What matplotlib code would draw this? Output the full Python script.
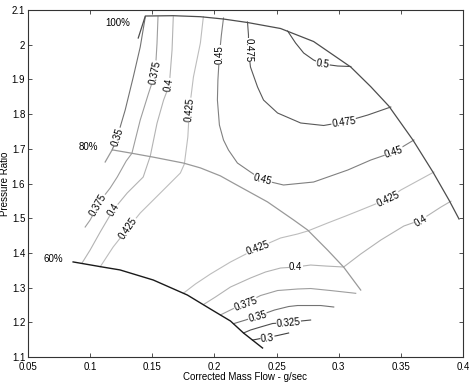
import matplotlib
matplotlib.use("Agg")
import matplotlib.pyplot as plt

plt.rcParams['font.family'] = ['Liberation Sans', 'DejaVu Sans']

# speed lines (corrected mass flow g/sec, pressure ratio)
n100_x = [0.1387, 0.1444, 0.1669, 0.1887, 0.2073, 0.2266, 0.2532, 0.2798, 0.3097,
          0.3258, 0.3403, 0.3597, 0.3758, 0.3887, 0.3968]
n100_y = [2.0193, 2.0827, 2.0836, 2.0807, 2.074, 2.064, 2.0467, 2.0092, 1.9357,
          1.879, 1.8233, 1.7254, 1.6331, 1.5525, 1.4977]
n80_x = [0.1121, 0.1177, 0.1323, 0.1508, 0.175, 0.1887, 0.2048, 0.2153, 0.2427,
         0.2637, 0.275, 0.2911, 0.304, 0.3177]
n80_y = [1.662, 1.697, 1.688, 1.676, 1.659, 1.645, 1.622, 1.601, 1.547,
         1.495, 1.466, 1.408, 1.359, 1.293]
n60_x = [0.0863, 0.1105, 0.124, 0.1508, 0.1782, 0.1968, 0.2129, 0.2234, 0.2387]
n60_y = [1.374, 1.359, 1.351, 1.3219, 1.2787, 1.2383, 1.2038, 1.1692, 1.126]
speed_names = ['100%', '80%', '60%']
speed_label_x = [0.1323, 0.1065, 0.0782]
speed_label_y = [2.063, 1.705, 1.382]

# efficiency contours
e350_x = [0.1177, 0.1218, 0.1282, 0.1347, 0.1403, 0.1444]
e350_y = [1.6965, 1.734, 1.8118, 1.9069, 1.9934, 2.0807]
e375a_x = [0.1546, 0.1538, 0.1524, 0.147, 0.1403, 0.1336, 0.129, 0.1218, 0.1161,
           0.1105, 0.1065, 0.1, 0.096]
e375a_y = [2.0807, 2.004, 1.9184, 1.86, 1.783, 1.687, 1.6648, 1.6187, 1.587,
           1.5611, 1.538, 1.4948, 1.4746]
e400a_x = [0.1669, 0.1659, 0.1637, 0.1591, 0.1538, 0.1484, 0.1427, 0.1298, 0.1185,
           0.1081, 0.1, 0.0935]
e400a_y = [2.0807, 1.9847, 1.8839, 1.8406, 1.7735, 1.6793, 1.6187, 1.5726, 1.5236,
           1.4602, 1.4084, 1.371]
e425a_x = [0.1911, 0.1887, 0.1831, 0.1798, 0.1786, 0.1758, 0.1726, 0.1605, 0.1508,
           0.1403, 0.1306, 0.1185, 0.1081]
e425a_y = [2.0807, 2.0049, 1.9069, 1.8118, 1.734, 1.6562, 1.6303, 1.587, 1.5524,
           1.515, 1.4718, 1.417, 1.360]
e450_x = [0.2073, 0.2056, 0.204, 0.2028, 0.2024, 0.204, 0.2073, 0.2113, 0.2185,
          0.229, 0.2387, 0.2556, 0.2798, 0.3073, 0.3258, 0.3444, 0.3605]
e450_y = [2.0769, 2.028, 1.9703, 1.8983, 1.8406, 1.7686, 1.7254, 1.6965, 1.6591,
          1.6331, 1.6101, 1.5957, 1.6043, 1.6389, 1.6677, 1.6908, 1.7254]
e475_x = [0.2266, 0.2274, 0.2274, 0.229, 0.2347, 0.2395, 0.2508, 0.2694, 0.2879,
          0.304, 0.3234, 0.3419]
e475_y = [2.0654, 2.028, 1.9847, 1.9357, 1.8781, 1.8406, 1.8032, 1.7744, 1.7672,
          1.7772, 1.7974, 1.8205]
e500_x = [0.2589, 0.2653, 0.2718, 0.2798, 0.2871, 0.2992, 0.3097]
e500_y = [2.0395, 2.0049, 1.9761, 1.9559, 1.9444, 1.9386, 1.9372]
e425b_x = [0.175, 0.1847, 0.1968, 0.2129, 0.2347, 0.2532, 0.2669, 0.275, 0.2911,
           0.3056, 0.3177, 0.3395, 0.35, 0.3766]
e425b_y = [1.2837, 1.3104, 1.3392, 1.3738, 1.4141, 1.443, 1.4545, 1.4631, 1.4862,
           1.5063, 1.5236, 1.5553, 1.5813, 1.6331]
e400b_x = [0.1911, 0.2008, 0.2129, 0.229, 0.2411, 0.2532, 0.2653, 0.2774, 0.2895,
           0.304, 0.3177, 0.3339, 0.3524, 0.3661, 0.3823, 0.3903]
e400b_y = [1.251, 1.2729, 1.3017, 1.3277, 1.345, 1.3565, 1.3594, 1.3651, 1.3622,
           1.3594, 1.3968, 1.4372, 1.4775, 1.4948, 1.5323, 1.549]
e375b_x = [0.2048, 0.2145, 0.225, 0.2371, 0.2508, 0.2669, 0.2774, 0.2935, 0.3137]
e375b_y = [1.2212, 1.2383, 1.2556, 1.2772, 1.2916, 1.296, 1.2974, 1.2916, 1.2836]
e350b_x = [0.2153, 0.225, 0.2347, 0.2484, 0.2597, 0.2669, 0.2855, 0.296]
e350b_y = [1.196, 1.2066, 1.2182, 1.2355, 1.2455, 1.2484, 1.2484, 1.2441]
e325_x = [0.2234, 0.229, 0.2371, 0.2468, 0.2597, 0.2694, 0.2774]
e325_y = [1.1692, 1.1778, 1.1865, 1.1966, 1.1994, 1.2037, 1.2066]
e300_x = [0.2306, 0.2371, 0.2427, 0.2508, 0.2597]
e300_y = [1.1488, 1.1533, 1.1562, 1.162, 1.1692]

# contour labels: text, x, y, rotation
lab_text = ['0.35', '0.375', '0.4', '0.425', '0.45', '0.475', '0.5', '0.475', '0.45',
            '0.45', '0.425', '0.4', '0.425', '0.4', '0.375', '0.35', '0.325', '0.3',
            '0.375', '0.4', '0.425']
lab_x = [0.1218, 0.1524, 0.1637, 0.1798, 0.204, 0.2274, 0.2871, 0.304, 0.2387,
         0.3444, 0.3395, 0.3661, 0.2347, 0.2653, 0.225, 0.2347, 0.2597, 0.2427,
         0.1065, 0.1185, 0.1306]
lab_y = [1.734, 1.9184, 1.8839, 1.8118, 1.9703, 1.9847, 1.9444, 1.7772, 1.6101,
         1.6908, 1.5553, 1.492, 1.4141, 1.3594, 1.2527, 1.2153, 1.198, 1.1548,
         1.538, 1.5236, 1.4718]
lab_rot = [72, 78, 80, 85, 90, -90, -8, 8, -15, 18, 25, 30, 20, 0, 20, 15, 5, 5,
           60, 58, 55]

# grey shades as in the scanned colour map
shade = {0.3: '0.25', 0.325: '0.3', 0.35: '0.45', 0.375: '0.62', 0.4: '0.7',
         0.425: '0.74', 0.45: '0.5', 0.475: '0.35', 0.5: '0.3'}

fig = plt.figure(figsize=(4.69, 3.82), dpi=100)
ax = fig.add_axes([0.0597, 0.0654, 0.9275, 0.9084])

curves = [(0.35, e350_x, e350_y), (0.375, e375a_x, e375a_y), (0.4, e400a_x, e400a_y),
          (0.425, e425a_x, e425a_y), (0.45, e450_x, e450_y), (0.475, e475_x, e475_y),
          (0.5, e500_x, e500_y), (0.425, e425b_x, e425b_y), (0.4, e400b_x, e400b_y),
          (0.375, e375b_x, e375b_y), (0.35, e350b_x, e350b_y), (0.325, e325_x, e325_y),
          (0.3, e300_x, e300_y)]
for lev, xs, ys in curves:
    ax.plot(xs, ys, color=shade[lev], lw=0.8)

ax.plot(n100_x, n100_y, color='0.3', lw=0.9)
ax.plot(n80_x, n80_y, color='0.6', lw=0.9)
ax.plot(n60_x, n60_y, color='0.1', lw=1.0)

for name, x, y in zip(speed_names, speed_label_x, speed_label_y):
    ax.text(x, y, name, fontsize=7, ha='right', va='center')

for t, x, y, r in zip(lab_text, lab_x, lab_y, lab_rot):
    ax.text(x, y, t, fontsize=7, ha='center', va='center', rotation=r,
            rotation_mode='anchor',
            bbox=dict(fc='white', ec='none', pad=0.3))

ax.set_xlim(0.05, 0.4)
ax.set_ylim(1.1, 2.1)
ax.set_xticks([0.05, 0.1, 0.15, 0.2, 0.25, 0.3, 0.35, 0.4])
ax.set_xticklabels(['0.05', '0.1', '0.15', '0.2', '0.25', '0.3', '0.35', '0.4'])
ax.set_yticks([1.1, 1.2, 1.3, 1.4, 1.5, 1.6, 1.7, 1.8, 1.9, 2.0, 2.1])
ax.set_yticklabels(['1.1', '1.2', '1.3', '1.4', '1.5', '1.6', '1.7', '1.8', '1.9', '2', '2.1'])
ax.tick_params(direction='in', top=True, right=True, labelsize=7, length=3, width=0.6,
               color='0.2')
ax.tick_params(axis='x', pad=3.5)
ax.tick_params(axis='y', pad=2)
for s in ax.spines.values():
    s.set_linewidth(0.8)
    s.set_color('0.2')
ax.set_xlabel('Corrected Mass Flow - g/sec', fontsize=7, labelpad=0)
ax.set_ylabel('Pressure Ratio', fontsize=7, labelpad=1)

fig.savefig('out.png', dpi=100)
